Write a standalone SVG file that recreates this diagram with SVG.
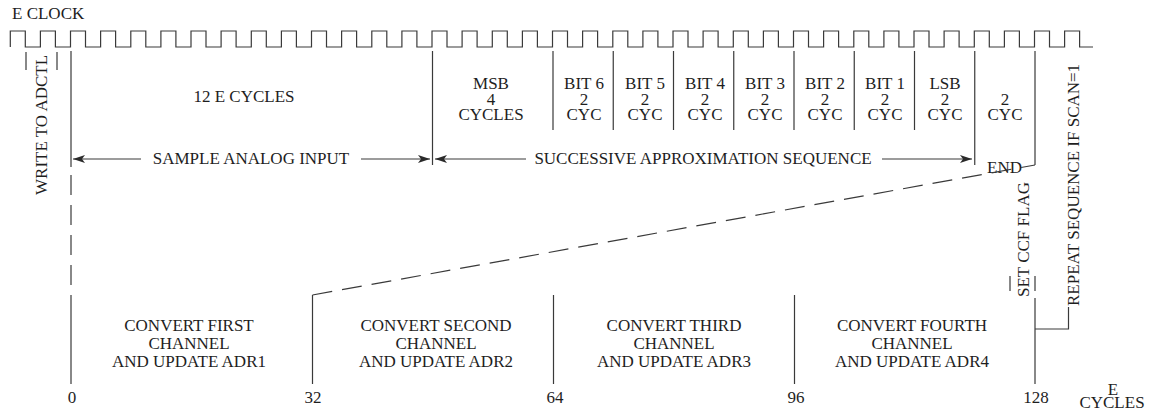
<svg xmlns="http://www.w3.org/2000/svg" width="1155" height="412" viewBox="0 0 1155 412">
  <style>
    text { font-family: "Liberation Serif", "Times New Roman", serif; font-size: 17px; fill: #1e1e1e; }
    .mid { text-anchor: middle; }
    .ln { stroke: #3a3a3a; stroke-width: 1.2; fill: none; }
    .dash { stroke: #3a3a3a; stroke-width: 1.2; fill: none; stroke-dasharray: 20 10; }
    .arr { stroke: #3a3a3a; stroke-width: 1.2; fill: none; marker-end: url(#head); }
  </style>
  <defs>
    <marker id="head" markerUnits="userSpaceOnUse" markerWidth="13" markerHeight="9" refX="12" refY="4" orient="auto">
      <path d="M0,0 L12,4 L0,8 L3,4 z" fill="#2a2a2a"/>
    </marker>
  </defs>
  <rect width="1155" height="412" fill="#ffffff"/>

  <!-- E clock waveform -->
  <g id="eclock">
    <text x="12" y="19">E CLOCK</text>
    <path class="ln" d="M10.3,47 V31 H25.3 V47 H40.4 V31 H55.4 V47 H70.5 V31 H85.5 V47 H100.6 V31 H115.6 V47 H130.8 V31 H145.8 V47 H160.9 V31 H175.9 V47 H191 V31 H206 V47 H221.1 V31 H236.1 V47 H251.3 V31 H266.3 V47 H281.4 V31 H296.4 V47 H311.5 V31 H326.5 V47 H341.6 V31 H356.6 V47 H371.8 V31 H386.8 V47 H401.9 V31 H416.9 V47 H432 V31 H447 V47 H462.1 V31 H477.1 V47 H492.3 V31 H507.3 V47 H522.4 V31 H537.4 V47 H552.5 V31 H567.5 V47 H582.6 V31 H597.6 V47 H612.8 V31 H627.8 V47 H642.9 V31 H657.9 V47 H673 V31 H688 V47 H703.1 V31 H718.1 V47 H733.3 V31 H748.3 V47 H763.4 V31 H778.4 V47 H793.5 V31 H808.5 V47 H823.6 V31 H838.6 V47 H853.8 V31 H868.8 V47 H883.9 V31 H898.9 V47 H914 V31 H929 V47 H944.1 V31 H959.1 V47 H974.3 V31 H989.3 V47 H1004.4 V31 H1019.4 V47 H1034.5 V31 H1049.5 V47 H1064.6 V31 H1079.6 V47 H1093"/>
  </g>

  <!-- write to ADCTL marker -->
  <g id="write-adctl">
    <path class="ln" d="M26,52 V70 M57,52 V70"/>
    <text transform="translate(47,195) rotate(-90)">WRITE TO ADCTL</text>
  </g>

  <!-- sample period -->
  <g id="sample">
    <text class="mid" x="244" y="102">12 E CYCLES</text>
    <text class="mid" x="251" y="164">SAMPLE ANALOG INPUT</text>
  </g>

  <!-- successive approximation bit cells -->
  <g id="msb">
    <text class="mid" x="491" y="89">MSB</text>
    <text class="mid" x="491" y="104.5">4</text>
    <text class="mid" x="491" y="120">CYCLES</text>
  </g>
  <g id="bit6">
    <text class="mid" x="584" y="89">BIT 6</text>
    <text class="mid" x="584" y="104.5">2</text>
    <text class="mid" x="584" y="120">CYC</text>
  </g>
  <g id="bit5">
    <text class="mid" x="645" y="89">BIT 5</text>
    <text class="mid" x="645" y="104.5">2</text>
    <text class="mid" x="645" y="120">CYC</text>
  </g>
  <g id="bit4">
    <text class="mid" x="705" y="89">BIT 4</text>
    <text class="mid" x="705" y="104.5">2</text>
    <text class="mid" x="705" y="120">CYC</text>
  </g>
  <g id="bit3">
    <text class="mid" x="765" y="89">BIT 3</text>
    <text class="mid" x="765" y="104.5">2</text>
    <text class="mid" x="765" y="120">CYC</text>
  </g>
  <g id="bit2">
    <text class="mid" x="825" y="89">BIT 2</text>
    <text class="mid" x="825" y="104.5">2</text>
    <text class="mid" x="825" y="120">CYC</text>
  </g>
  <g id="bit1">
    <text class="mid" x="885" y="89">BIT 1</text>
    <text class="mid" x="885" y="104.5">2</text>
    <text class="mid" x="885" y="120">CYC</text>
  </g>
  <g id="lsb">
    <text class="mid" x="945" y="89">LSB</text>
    <text class="mid" x="945" y="104.5">2</text>
    <text class="mid" x="945" y="120">CYC</text>
  </g>
  <g id="end-cycles">
    <text class="mid" x="1005" y="104.5">2</text>
    <text class="mid" x="1005" y="120">CYC</text>
    <text x="987" y="173">END</text>
  </g>
  <g id="sar">
    <text class="mid" x="703" y="164">SUCCESSIVE APPROXIMATION SEQUENCE</text>
  </g>

  <!-- flag and repeat notes -->
  <g id="ccf-flag">
    <path class="ln" d="M1010,276 V291 M1035,276 V291"/>
    <text transform="translate(1028.5,297) rotate(-90)">SET CCF FLAG</text>
  </g>
  <g id="repeat">
    <text transform="translate(1079,306) rotate(-90)">REPEAT SEQUENCE IF SCAN=1</text>
  </g>

  <!-- four channel conversions -->
  <g id="ch1">
    <text class="mid" x="189" y="331">CONVERT FIRST</text>
    <text class="mid" x="189" y="349">CHANNEL</text>
    <text class="mid" x="189" y="367">AND UPDATE ADR1</text>
  </g>
  <g id="ch2">
    <text class="mid" x="436" y="331">CONVERT SECOND</text>
    <text class="mid" x="436" y="349">CHANNEL</text>
    <text class="mid" x="436" y="367">AND UPDATE ADR2</text>
  </g>
  <g id="ch3">
    <text class="mid" x="674" y="331">CONVERT THIRD</text>
    <text class="mid" x="674" y="349">CHANNEL</text>
    <text class="mid" x="674" y="367">AND UPDATE ADR3</text>
  </g>
  <g id="ch4">
    <text class="mid" x="912" y="331">CONVERT FOURTH</text>
    <text class="mid" x="912" y="349">CHANNEL</text>
    <text class="mid" x="912" y="367">AND UPDATE ADR4</text>
  </g>

  <!-- cycle axis -->
  <g id="axis">
    <text class="mid" x="72" y="403">0</text>
    <text class="mid" x="313" y="403">32</text>
    <text class="mid" x="555" y="403">64</text>
    <text class="mid" x="796" y="403">96</text>
    <text class="mid" x="1036" y="403">128</text>
    <text class="mid" x="1113" y="395">E</text>
    <text class="mid" x="1112" y="408">CYCLES</text>
  </g>

  <!-- connectors: dividers, arrows, expansion line, bracket -->
  <g id="connectors">
    <path class="ln" d="M71,51 V167 M432.5,51 V165 M974.75,51 V165 M1035,51 V165"/>
    <path class="ln" d="M553,51 V130 M613.25,51 V130 M673.5,51 V130 M733.75,51 V130 M794,51 V130 M854.25,51 V130 M914.5,51 V130"/>
    <path class="dash" d="M71,175 V286"/>
    <path class="ln" d="M71,295 V384 M312.5,295 V384 M553.5,295 V384 M794.5,295 V384 M1035,298 V384"/>
    <path class="dash" d="M312.5,295 L1035,165"/>
    <path class="ln" d="M1035,329 H1068.5 V307"/>
    <path class="arr" d="M141,159 H73"/>
    <path class="arr" d="M361,159 H430"/>
    <path class="arr" d="M526,159 H435"/>
    <path class="arr" d="M882,159 H972"/>
  </g>
</svg>
